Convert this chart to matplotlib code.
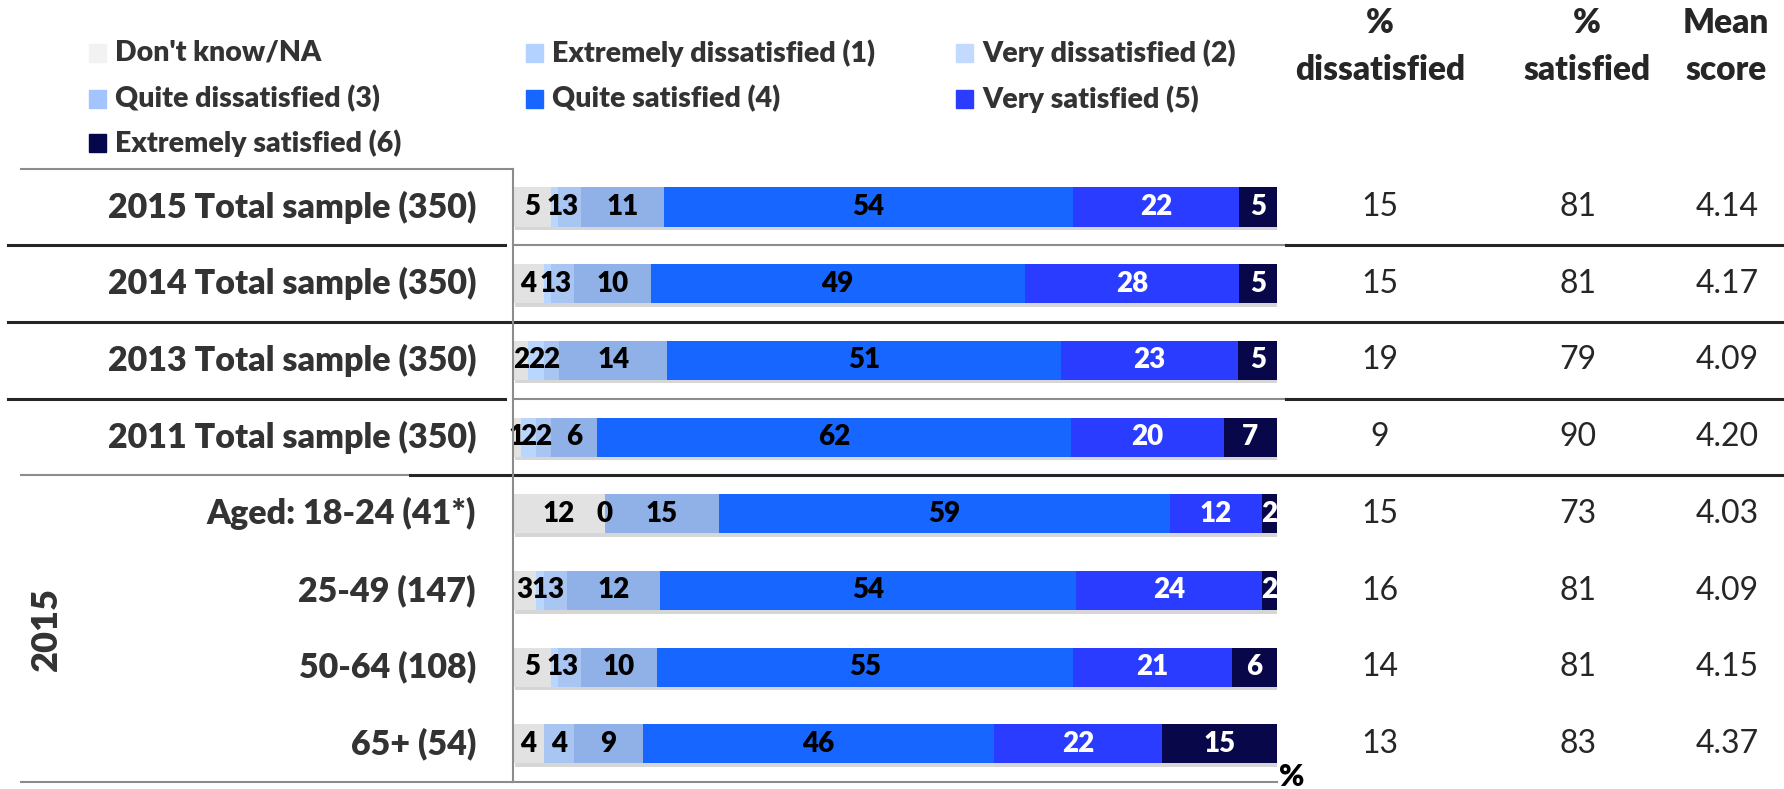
import numpy as np
import matplotlib.pyplot as plt
import matplotlib.transforms as mtransforms
from matplotlib.lines import Line2D
from matplotlib.patches import Rectangle
from matplotlib import patheffects

plt.rcParams['font.family'] = ['Lato', 'DejaVu Sans']

groups = [
    "2015 Total sample (350)",
    "2014 Total sample (350)",
    "2013 Total sample (350)",
    "2011 Total sample (350)",
    "Aged: 18-24 (41*)",
    "25-49 (147)",
    "50-64 (108)",
    "65+ (54)",
]

categories = [
    "Don't know/NA",
    "Extremely dissatisfied (1)",
    "Very dissatisfied (2)",
    "Quite dissatisfied (3)",
    "Quite satisfied (4)",
    "Very satisfied (5)",
    "Extremely satisfied (6)",
]

# answers per group, % (nan = no answer in that band)
dont_know = [5, 4, 2, 1, 12, 3, 5, 4]
extremely_dis = [1, 1, 2, 2, 0, 1, 1, np.nan]
very_dis = [3, 3, 2, 2, np.nan, 3, 3, 4]
quite_dis = [11, 10, 14, 6, 15, 12, 10, 9]
quite_sat = [54, 49, 51, 62, 59, 54, 55, 46]
very_sat = [22, 28, 23, 20, 12, 24, 21, 22]
extremely_sat = [5, 5, 5, 7, 2, 2, 6, 15]

pct_dissatisfied = [15, 15, 19, 9, 15, 16, 14, 13]
pct_satisfied = [81, 81, 79, 90, 73, 81, 81, 83]
mean_score = [4.14, 4.17, 4.09, 4.20, 4.03, 4.09, 4.15, 4.37]

series = [dont_know, extremely_dis, very_dis, quite_dis,
          quite_sat, very_sat, extremely_sat]
colors = ["#e2e2e2", "#b9d6fe", "#a9c6f2", "#8fb1e8",
          "#1766ff", "#2a3cff", "#07074a"]
label_colors = ["black"] * 5 + ["white"] * 2

W, H = 1784, 789
fig = plt.figure(figsize=(W / 100, H / 100), dpi=100)

# bar panel: rows centred at 207px, 76.7px apart
row0, step = 207, 76.7
top, bottom = 168, 781
ax = fig.add_axes([513 / W, 1 - bottom / H, 764 / W, (bottom - top) / H])
ax.set_xlim(0, 100)
ax.set_ylim((bottom - row0) / step, (top - row0) / step)
ax.axis("off")

vals = np.array(series, dtype=float)
widths = np.nan_to_num(vals)
widths = widths / widths.sum(axis=0) * 100  # 100% stacked
lefts = np.vstack([np.zeros(len(groups)), np.cumsum(widths, axis=0)[:-1]])
y = np.arange(len(groups))

shadow = [patheffects.SimplePatchShadow(offset=(1.5, -2.5), shadow_rgbFace="0.55", alpha=0.35),
          patheffects.Normal()]
for k in range(len(series)):
    bars = ax.barh(y, widths[k], left=lefts[k], height=0.51, color=colors[k])
    for b in bars:
        b.set_path_effects(shadow)
    for i in range(len(groups)):
        if np.isnan(vals[k, i]):
            continue
        ax.text(lefts[k, i] + widths[k, i] / 2, y[i], f"{vals[k, i]:.0f}",
                ha="center", va="center", fontsize=20, fontweight="heavy",
                color=label_colors[k])

fx = lambda px: px / W
fy = lambda py: 1 - py / H
blend = mtransforms.blended_transform_factory(fig.transFigure, ax.transData)

# row labels and the summary columns
for i, g in enumerate(groups):
    fig.text(fx(476), 0, g, transform=blend, ha="right", va="center",
             fontsize=24.5, fontweight="heavy", color="#333333").set_y(y[i])
    fig.text(fx(1380), 0, f"{pct_dissatisfied[i]}", transform=blend,
             ha="center", va="center", fontsize=23, color="#262626").set_y(y[i])
    fig.text(fx(1578), 0, f"{pct_satisfied[i]}", transform=blend,
             ha="center", va="center", fontsize=23, color="#262626").set_y(y[i])
    fig.text(fx(1727), 0, f"{mean_score[i]:.2f}", transform=blend,
             ha="center", va="center", fontsize=23, color="#262626").set_y(y[i])

fig.text(fx(46), 0, "2015", transform=blend, rotation=90, ha="center",
         va="center", fontsize=26, fontweight="heavy", color="#333333").set_y(5.5)

# column headers
for cx, top_word, bottom_word in [(1380, "%", "dissatisfied"),
                                  (1587, "%", "satisfied"),
                                  (1726, "Mean", "score")]:
    fig.text(fx(cx), fy(23), top_word, ha="center", va="center",
             fontsize=24, fontweight="heavy", color="#262626")
    fig.text(fx(cx), fy(70), bottom_word, ha="center", va="center",
             fontsize=24, fontweight="heavy", color="#262626")

fig.text(fx(1279), fy(777), "%", ha="left", va="center",
         fontsize=22, fontweight="heavy", color="black")

# legend, three columns
leg_pos = [(89, 53), (526, 53), (956, 53),
           (89, 99), (526, 99), (956, 99),
           (89, 143)]
leg_colors = ["#f2f2f2", "#b4d2ff", "#c3daff", "#a4c4ff",
              "#1766ff", "#2b3bff", "#06064a"]
sq = 17
for (lx, ly), name, c in zip(leg_pos, categories, leg_colors):
    fig.add_artist(Rectangle((fx(lx), fy(ly + sq / 2)), sq / W, sq / H,
                             transform=fig.transFigure, color=c))
    fig.text(fx(lx + 26), fy(ly), name, ha="left", va="center",
             fontsize=20.5, fontweight="heavy", color="#333333")

# table rules
dark, grey = "#262626", "#8c8c8c"
rules = [
    (-0.5, 21, 513, grey, 1.5),
    (0.5, 8, 505, dark, 2.2), (0.5, 513, 1286, grey, 1.5), (0.5, 1286, 1784, dark, 2.2),
    (1.5, 8, 1784, dark, 2.2),
    (2.5, 8, 505, dark, 2.2), (2.5, 513, 1286, grey, 1.5), (2.5, 1286, 1784, dark, 2.2),
    (3.5, 21, 410, grey, 1.5), (3.5, 410, 1784, dark, 2.2),
    (7.5, 21, 1277, grey, 1.5),
]
for ry, x0, x1, c, lw in rules:
    fig.add_artist(Line2D([fx(x0), fx(x1)], [ry, ry], transform=blend,
                          color=c, lw=lw))
fig.add_artist(Line2D([fx(513), fx(513)], [-0.5, 7.5], transform=blend,
                      color=grey, lw=1.5))

fig.savefig("out.png", dpi=100)
